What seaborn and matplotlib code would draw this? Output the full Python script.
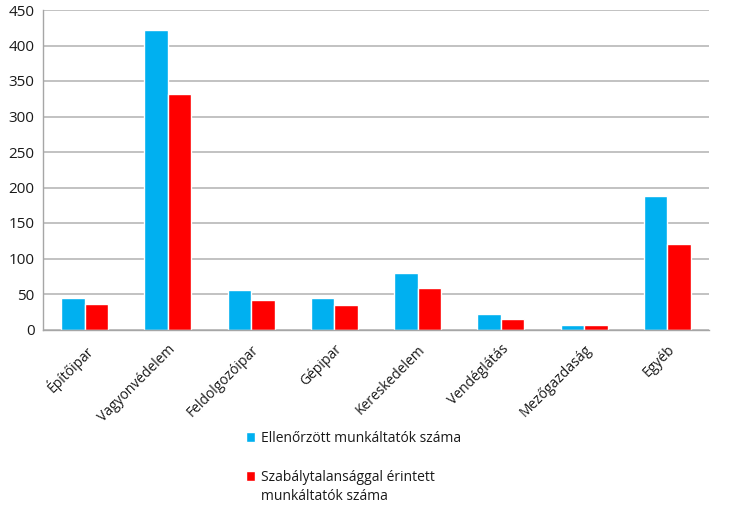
import matplotlib
matplotlib.use("Agg")
import matplotlib.pyplot as plt
import matplotlib.transforms as mtransforms
import seaborn as sns
import pandas as pd
import numpy as np

categories = ["Építőipar", "Vagyonvédelem", "Feldolgozóipar", "Gépipar",
              "Kereskedelem", "Vendéglátás", "Mezőgazdaság", "Egyéb"]
ellenorzott = [44, 422, 56, 44, 79, 22, 7, 188]
szabalytalan = [36, 332, 41, 35, 58, 15, 7, 120]
series_names = ["Ellenőrzött munkáltatók száma",
                "Szabálytalansággal érintett munkáltatók száma"]
legend_lines = [["Ellenőrzött munkáltatók száma"],
                ["Szabálytalansággal érintett", "munkáltatók száma"]]
yticks = [0, 50, 100, 150, 200, 250, 300, 350, 400, 450]

df = pd.DataFrame({
    "cat": categories * 2,
    "val": ellenorzott + szabalytalan,
    "series": [series_names[0]] * len(categories) + [series_names[1]] * len(categories),
})

sns.set_theme(style="white")
plt.rcParams["font.family"] = ["Open Sans", "DejaVu Sans"]

fig = plt.figure(figsize=(7.38, 5.07), dpi=100)
ax = fig.add_axes([43 / 738, 1 - 329.5 / 507, (709 - 43) / 738, (329.5 - 10) / 507])

sns.barplot(data=df, x="cat", y="val", hue="series", order=categories,
            hue_order=series_names, palette=["#00B0F0", "#FF0000"],
            width=0.565, saturation=1, ax=ax, legend=True)

ax.set_ylim(0, 450)
ax.set_xlim(-0.5, len(categories) - 0.5)
ax.set_yticks(yticks)
ax.set_yticklabels([str(t) for t in yticks], fontsize=11, color="#1a1a1a")
ax.yaxis.grid(True, color="#B8B8B8", linewidth=1.2)
ax.set_axisbelow(True)
ax.set_xlabel("")
ax.set_ylabel("")

for s in ["top", "right"]:
    ax.spines[s].set_visible(False)
for s in ["left", "bottom"]:
    ax.spines[s].set_color("#A6A6A6")
    ax.spines[s].set_linewidth(1.0)

ax.set_xticks(range(len(categories)))
ax.set_xticklabels(categories, rotation=45, ha="right", rotation_mode="anchor",
                   fontsize=10, color="#1a1a1a")
offset = mtransforms.ScaledTranslation(6 / 100, -2 / 100, fig.dpi_scale_trans)
for lbl in ax.get_xticklabels():
    lbl.set_transform(lbl.get_transform() + offset)
ax.tick_params(axis="x", which="major", length=0, pad=9)
ax.set_xticks(np.arange(-0.5, len(categories), 1.0), minor=True)
ax.tick_params(axis="x", which="minor", length=5, color="#A6A6A6", width=1, direction="out")
ax.tick_params(axis="y", length=0, pad=6)

handles, _ = ax.get_legend_handles_labels()
ax.get_legend().remove()
leg = fig.legend(handles, [lines[0] for lines in legend_lines], loc="upper left",
                 bbox_to_anchor=(233 / 738, 1 - 418 / 507),
                 frameon=False, fontsize=10, handlelength=0.7, handleheight=0.7,
                 handletextpad=0.4, labelspacing=1.75)
for t in leg.get_texts():
    t.set_color("#1a1a1a")

fig.canvas.draw()
renderer = fig.canvas.get_renderer()
for txt, lines in zip(leg.get_texts(), legend_lines):
    bb = txt.get_window_extent(renderer)
    for k, extra in enumerate(lines[1:], start=1):
        fig.text(bb.x0 / fig.bbox.width, (bb.y0 - 19.5 * k) / fig.bbox.height, extra,
                 fontsize=10, color="#1a1a1a", ha="left", va="bottom")

fig.savefig("out.png", dpi=100)
